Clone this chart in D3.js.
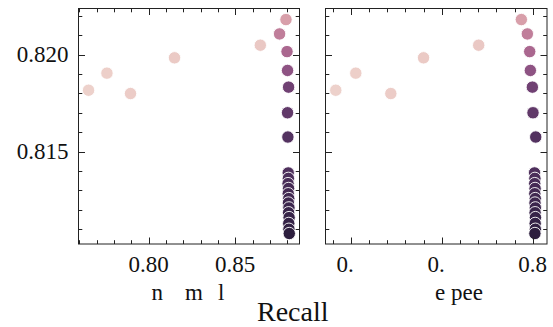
<!DOCTYPE html>
<html><head><meta charset="utf-8">
<script src="https://cdn.jsdelivr.net/npm/d3@7"></script>
<style>
body{margin:0;background:#fff}
svg{display:block}
</style>
</head><body>
<svg id="chart" width="553" height="327"></svg>
<script>
// ---- data ----
const precision = [0.81816,0.81904,0.81799,0.81983,0.82048,0.82180,0.82106,0.82015,0.81918,0.81832,0.81700,0.81575,
  0.81390,0.81362,0.81335,0.81310,0.81283,0.81258,0.81235,0.81210,0.81185,0.81160,0.81130,0.81100,0.81078];
const recallLeft = [0.7654,0.7760,0.7896,0.8150,0.8645,0.8793,0.8756,0.8799,0.8802,0.8808,0.8802,0.8804,
  0.8806,0.8807,0.8805,0.8808,0.8806,0.8809,0.8807,0.8810,0.8808,0.8811,0.8809,0.8810,0.8812];
const recallRight = [0.5835,0.6055,0.6440,0.6800,0.7406,0.7875,0.7941,0.7967,0.7974,0.7996,0.8003,0.8033,
  0.8020,0.8024,0.8022,0.8026,0.8023,0.8028,0.8025,0.8029,0.8026,0.8030,0.8027,0.8029,0.8024];
const hueValues = [0.00,0.01,0.02,0.03,0.04,0.22,0.38,0.50,0.62,0.74,0.80,0.85,
  0.87,0.88,0.89,0.90,0.91,0.92,0.93,0.94,0.95,0.96,0.97,0.98,1.00];
const yTicks = [0.815,0.820];
const yTickLabels = ["0.815","0.820"];
const leftXTicks = [0.80,0.85];
const leftXTickLabels = ["0.80","0.85"];
const rightXTicks = [0.6,0.7,0.8];
const rightXTickLabels = ["0.","0.","0.8"];
const leftXLabelParts = ["n","m","l"];
const rightXLabelParts = ["e","pee"];
const supLabel = "Recall";

const FONT = "'Liberation Serif', 'DejaVu Serif', 'Noto Serif', serif";

// ---- seaborn default cubehelix palette ----
function cubehelix(t){
  const x = 0.85 + (0.15-0.85)*t, gamma=1, s=0, r=0.4, h=0.8;
  const xg = Math.pow(x,gamma), a = h*xg*(1-xg)/2, phi = 2*Math.PI*(s/3 + r*x);
  const c=(p0,p1)=>Math.max(0,Math.min(1,xg + a*(p0*Math.cos(phi)+p1*Math.sin(phi))));
  return d3.rgb(255*c(-0.14861,1.78277),255*c(-0.29227,-0.90649),255*c(1.97294,0)).formatHex();
}
const hueScale = d3.scaleLinear().domain(d3.extent(hueValues)).range([0,1]);

const svg = d3.select("#chart").attr("font-family",FONT);
const yTop = 8.5, yBottom = 244;
const y = d3.scaleLinear().domain([0.81024,0.82237]).range([yBottom, yTop]);
const FS = 23;

const panels = [
  {x0:78.5, x1:299.5, domain:[0.7596,0.8871], ticks:leftXTicks, labels:leftXTickLabels, minor:0.01, xs:recallLeft, showY:true, labelParts:leftXLabelParts, labelX:[151.5,185,218], shift:false},
  {x0:325.5, x1:547, domain:[0.5722,0.8157], ticks:rightXTicks, labels:rightXTickLabels, minor:0.02, xs:recallRight, showY:false, labelParts:rightXLabelParts, labelX:[435,451], shift:true}
];

const meas = svg.append("text").attr("font-family",FONT).attr("font-size",FS).text("0.8");
const fullW = meas.node().getComputedTextLength(); meas.remove();

const yMinor = d3.range(0.811,0.8225,0.001).filter(v=>!yTicks.some(t=>Math.abs(t-v)<1e-6));

function txt(sel){ return sel.append("text").attr("font-family",FONT).attr("fill","#111"); }

panels.forEach(p=>{
  const x = d3.scaleLinear().domain(p.domain).range([p.x0,p.x1]);
  const g = svg.append("g");
  const xMinor = d3.range(Math.ceil(p.domain[0]/p.minor)*p.minor, p.domain[1], p.minor)
      .filter(v=>!p.ticks.some(t=>Math.abs(t-v)<1e-6));

  const idx = d3.range(precision.length).sort((a,b)=>hueValues[a]-hueValues[b]);
  g.append("g").selectAll("circle").data(idx).join("circle")
    .attr("cx",i=>x(p.xs[i])).attr("cy",i=>y(precision[i])).attr("r",6.2)
    .attr("fill",i=>cubehelix(hueScale(hueValues[i])))
    .attr("stroke","#fff").attr("stroke-width",0.9);

  const tk = g.append("g").attr("stroke","#222").attr("stroke-width",1);
  p.ticks.forEach(v=>{ const xx=Math.round(x(v))+0.5;
    tk.append("line").attr("x1",xx).attr("x2",xx).attr("y1",yBottom).attr("y2",yBottom-6.5);
    tk.append("line").attr("x1",xx).attr("x2",xx).attr("y1",yTop).attr("y2",yTop+6.5);});
  xMinor.forEach(v=>{ const xx=Math.round(x(v))+0.5;
    tk.append("line").attr("x1",xx).attr("x2",xx).attr("y1",yBottom).attr("y2",yBottom-3.8);
    tk.append("line").attr("x1",xx).attr("x2",xx).attr("y1",yTop).attr("y2",yTop+3.8);});
  yTicks.forEach(v=>{ const yy=Math.round(y(v))+0.5;
    tk.append("line").attr("x1",p.x0).attr("x2",p.x0+6.5).attr("y1",yy).attr("y2",yy);
    tk.append("line").attr("x1",p.x1).attr("x2",p.x1-6.5).attr("y1",yy).attr("y2",yy);});
  yMinor.forEach(v=>{ const yy=Math.round(y(v))+0.5;
    tk.append("line").attr("x1",p.x0).attr("x2",p.x0+3.8).attr("y1",yy).attr("y2",yy);
    tk.append("line").attr("x1",p.x1).attr("x2",p.x1-3.8).attr("y1",yy).attr("y2",yy);});
  g.append("rect").attr("x",p.x0).attr("y",yTop).attr("width",p.x1-p.x0).attr("height",yBottom-yTop)
    .attr("fill","none").attr("stroke","#222").attr("stroke-width",1);

  p.ticks.forEach((v,i)=>{
    const t = txt(g).attr("font-size",FS).attr("y",272).text(p.labels[i]);
    if(p.shift){ t.attr("x",x(v)-fullW/2).attr("text-anchor","start"); }
    else { t.attr("x",x(v)).attr("text-anchor","middle"); }
  });
  if(p.showY){
    yTicks.forEach((v,i)=>{
      txt(g).attr("font-size",FS).attr("x",p.x0-10).attr("y",y(v)+7.6)
        .attr("text-anchor","end").text(yTickLabels[i]);
    });
  }
  const lt = txt(g).attr("font-size",FS).attr("y",300);
  p.labelParts.forEach((s,i)=>lt.append("tspan").attr("x",p.labelX[i]).text(s));
});

txt(svg).attr("font-size",28).attr("x",257).attr("y",321).text(supLabel);
</script>
</body></html>
